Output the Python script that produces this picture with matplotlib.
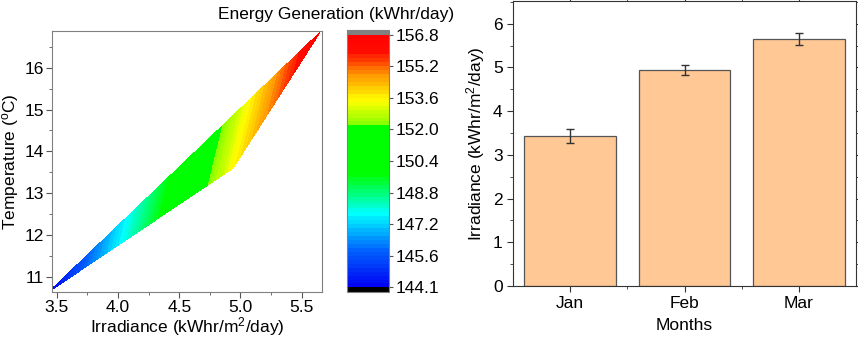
"""Energy generation contour (irradiance vs temperature) and monthly irradiance bars."""
import numpy as np
import matplotlib; matplotlib.use("Agg")
import matplotlib.pyplot as plt
from matplotlib.colors import LinearSegmentedColormap
from matplotlib.ticker import MultipleLocator, FixedLocator

plt.rcParams["font.family"] = ["Liberation Sans", "DejaVu Sans"]
plt.rcParams["mathtext.fontset"] = "custom"
plt.rcParams["mathtext.rm"] = "Liberation Sans"
plt.rcParams["mathtext.default"] = "regular"

# data
months = ["Jan", "Feb", "Mar"]
irradiance = [3.44, 4.94, 5.65]
irradiance_err = [0.16, 0.11, 0.13]
temperature = [10.65, 13.6, 16.85]
energy = [144.1, 153.5, 156.8]
cbar_labels = ["144.1", "145.6", "147.2", "148.8", "150.4", "152.0", "153.6", "155.2", "156.8"]

# Origin-like rainbow with a wide green band
cmap = LinearSegmentedColormap.from_list("origin", [
    (0.00, (0.0, 0.0, 0.95)),
    (0.15, (0.0, 0.40, 1.0)),
    (0.29, (0.0, 1.0, 1.0)),
    (0.45, (0.0, 1.0, 0.0)),
    (0.635, (0.0, 1.0, 0.0)),
    (0.64, (0.5, 1.0, 0.0)),
    (0.74, (1.0, 1.0, 0.0)),
    (0.84, (1.0, 0.6, 0.0)),
    (0.93, (1.0, 0.05, 0.0)),
    (1.00, (1.0, 0.0, 0.0)),
])
cmap.set_over("#808080")
cmap.set_under("black")

fig = plt.figure(figsize=(8.58, 3.39), dpi=100)
axA = fig.add_axes([52/858, 47/339, 270/858, 261/339])
cax = fig.add_axes([347/858, 47/339, 42/858, 262/339])
axB = fig.add_axes([513/858, 53/339, 343/858, 285/339])

fs = 12.5

# Panel A: contour
levels = np.linspace(min(energy), max(energy), 65)
cs = axA.tricontourf(irradiance, temperature, energy, levels=levels, cmap=cmap, extend="both")
axA.set_xlim(3.46, 5.666); axA.set_ylim(10.63, 16.88)
axA.xaxis.set_major_locator(MultipleLocator(0.5)); axA.xaxis.set_minor_locator(MultipleLocator(0.25))
axA.yaxis.set_major_locator(MultipleLocator(1)); axA.yaxis.set_minor_locator(MultipleLocator(0.5))
axA.xaxis.set_major_formatter(plt.FormatStrFormatter("%.1f"))
axA.tick_params(which="both", direction="out", labelsize=fs, color="#555555", pad=2)
axA.tick_params(which="major", length=4); axA.tick_params(which="minor", length=2.5)
for s in axA.spines.values():
    s.set_color("#808080")
axA.set_xlabel("Irradiance (kWhr/m$^{2}$/day)", fontsize=fs, labelpad=0)
axA.set_ylabel("Temperature ($^{o}$C)", fontsize=fs, labelpad=2)

cb = fig.colorbar(cs, cax=cax, extend="both", extendrect=True, extendfrac=0.018)
cb.set_ticks(np.linspace(min(energy), max(energy), 9))
cb.set_ticklabels(cbar_labels)
cb.ax.tick_params(labelsize=fs, length=3, color="#555555", pad=2)
cb.outline.set_edgecolor("#808080")
cb.ax.minorticks_off()
fig.text(336/858, 1 - 14/339, "Energy Generation (kWhr/day)", fontsize=fs, ha="center", va="center")

# Panel B: monthly irradiance
x = np.arange(1, len(months) + 1)
axB.bar(x, irradiance, 0.8, yerr=irradiance_err, capsize=3, color="#FFC894",
        edgecolor="#555555", linewidth=0.9, error_kw=dict(ecolor="#333333", elinewidth=1, capthick=1))
axB.set_xlim(0.5, 3.5); axB.set_ylim(0, 6.52)
axB.set_xticks(x); axB.set_xticklabels(months)
axB.xaxis.set_minor_locator(FixedLocator([1.5, 2.5]))
axB.yaxis.set_major_locator(MultipleLocator(1)); axB.yaxis.set_minor_locator(MultipleLocator(0.5))
axB.tick_params(which="both", direction="out", labelsize=fs, color="#333333")
axB.tick_params(which="major", length=4); axB.tick_params(which="minor", length=2.5)
axB.tick_params(which="both", top=True, right=True, labeltop=False, labelright=False)
for s in axB.spines.values():
    s.set_color("#333333")
axB.set_xlabel("Months", fontsize=fs, labelpad=5)
axB.set_ylabel("Irradiance (kWhr/m$^{2}$/day)", fontsize=fs, labelpad=4)

fig.savefig("out.png", dpi=100)
